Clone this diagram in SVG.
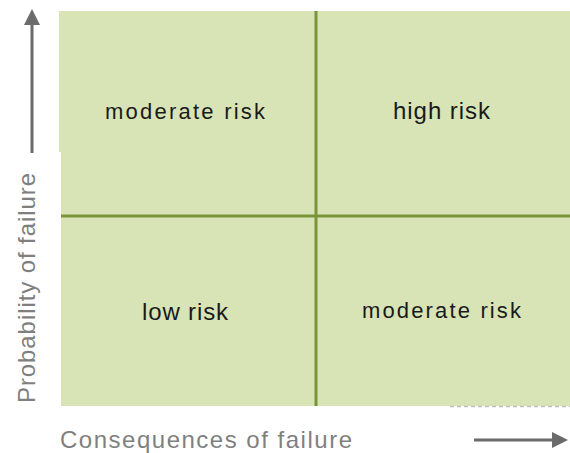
<svg xmlns="http://www.w3.org/2000/svg" width="570" height="453" viewBox="0 0 570 453">
<style>
.cell{font-family:"Liberation Sans",Arial,sans-serif;fill:#1a1a1a;}
.axis{font-family:"Liberation Sans",Arial,sans-serif;fill:#7f7f7f;font-size:24px;}
.div{stroke:#7a943a;stroke-width:3;fill:none;}
.arr{stroke:#6b6b6b;stroke-width:3;fill:none;}
.head{fill:#6b6b6b;}
</style>
<rect width="570" height="453" fill="#ffffff"/>
<g id="grid">
<polygon points="59,11 570,11 570,406 61,406 61,152 59,152" fill="#d8e4b6"/>
<line x1="450" y1="406.5" x2="570" y2="406.5" stroke="#bfbfbf" stroke-width="1.5" stroke-dasharray="4,3"/>
</g>
<g id="connectors">
<line class="div" x1="316" y1="11" x2="316" y2="406"/>
<line class="div" x1="61" y1="216" x2="570" y2="216"/>
<line class="arr" x1="32" y1="153" x2="32" y2="24"/>
<polygon class="head" points="32,9 40,25 24,25"/>
<line class="arr" x1="474" y1="440" x2="554" y2="440"/>
<polygon class="head" points="568,440 552,432 552,448"/>
</g>
<g id="q-top-left"><text class="cell" x="105" y="119" font-size="22" textLength="160" lengthAdjust="spacing">moderate risk</text></g>
<g id="q-top-right"><text class="cell" x="393" y="119" font-size="24" textLength="97" lengthAdjust="spacing">high risk</text></g>
<g id="q-bottom-left"><text class="cell" x="142" y="320" font-size="24" textLength="86" lengthAdjust="spacing">low risk</text></g>
<g id="q-bottom-right"><text class="cell" x="362" y="318" font-size="22" textLength="159" lengthAdjust="spacing">moderate risk</text></g>
<g id="x-label"><text class="axis" x="60" y="448" textLength="292" lengthAdjust="spacing">Consequences of failure</text></g>
<g id="y-label"><text class="axis" transform="translate(35,403) rotate(-90)" x="0" y="0" textLength="230" lengthAdjust="spacing">Probability of failure</text></g>
</svg>
